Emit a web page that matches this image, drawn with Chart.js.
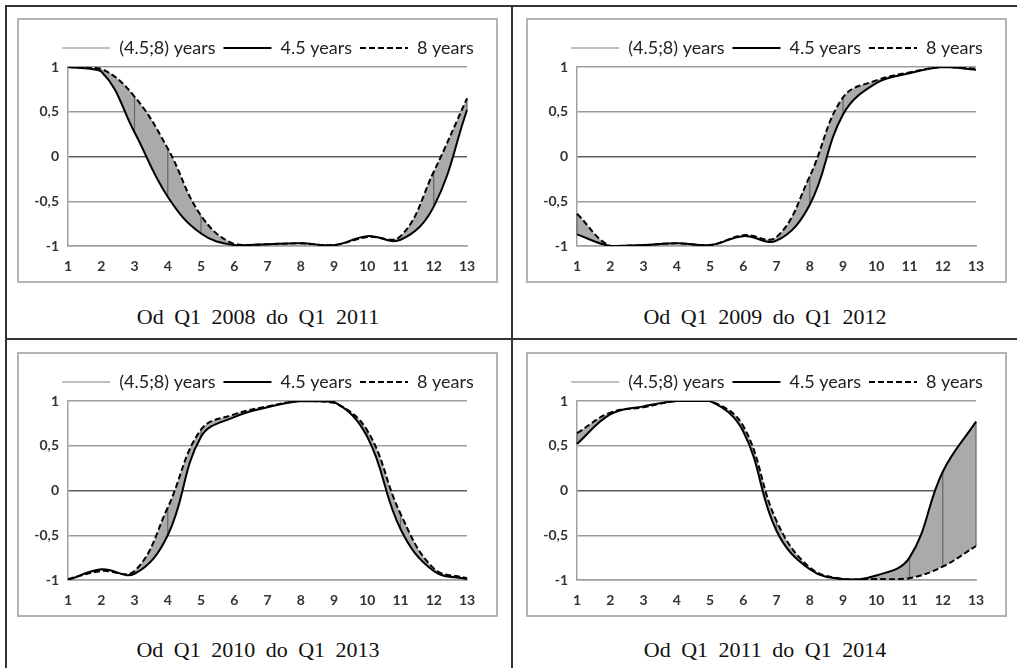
<!DOCTYPE html>
<html>
<head>
<meta charset="utf-8">
<script src="https://cdn.jsdelivr.net/npm/chart.js@4/dist/chart.umd.min.js"></script>
<style>
    body { margin: 0; background: #fff; width: 1017px; height: 668px; overflow: hidden; position: relative; }
    .rule { position: absolute; background: #333; }
    .frame { position: absolute; width: 477px; height: 261px; border: 2px solid #b3b3b3; background: #fff; }
    .caption { position: absolute; width: 500px; text-align: center; font-family: "Liberation Serif", "Times New Roman", serif; font-size: 22px; word-spacing: 5px; color: #111; }
</style>
</head>
<body>
<div class="rule" style="left:5px;top:5px;width:2px;height:663px"></div>
<div class="rule" style="left:5px;top:5px;width:1012px;height:2px"></div>
<div class="rule" style="left:511px;top:5px;width:2px;height:663px"></div>
<div class="rule" style="left:5px;top:338px;width:1012px;height:2px"></div>

<div class="frame" style="left:17px;top:18px"><canvas id="chart1" width="477" height="261"></canvas></div>
<div class="frame" style="left:526px;top:18px"><canvas id="chart2" width="477" height="261"></canvas></div>
<div class="frame" style="left:17px;top:352px"><canvas id="chart3" width="477" height="261"></canvas></div>
<div class="frame" style="left:526px;top:352px"><canvas id="chart4" width="477" height="261"></canvas></div>

<div class="caption" id="cap1" style="left:8px;top:304px"></div>
<div class="caption" id="cap2" style="left:515px;top:304px"></div>
<div class="caption" id="cap3" style="left:8px;top:637px"></div>
<div class="caption" id="cap4" style="left:515px;top:637px"></div>

<script>
const quarters = ['1', '2', '3', '4', '5', '6', '7', '8', '9', '10', '11', '12', '13'];
const yTickLabels = ['-1', '-0,5', '0', '0,5', '1'];
const seriesNames = ['(4.5;8) years', '4.5 years', '8 years'];
const captions = ['Od Q1 2008 do Q1 2011', 'Od Q1 2009 do Q1 2012', 'Od Q1 2010 do Q1 2013', 'Od Q1 2011 do Q1 2014'];

// 4.5 years / 8 years, one pair per panel
const p1Short = [1.0, 0.95, 0.27, -0.45, -0.86, -0.99, -0.98, -0.97, -0.99, -0.89, -0.93, -0.56, 0.52];
const p1Long  = [1.0, 0.98, 0.67, 0.09, -0.66, -0.98, -0.98, -0.97, -0.99, -0.90, -0.89, -0.17, 0.65];
const p2Short = [-0.87, -1.0, -0.99, -0.97, -0.99, -0.89, -0.94, -0.54, 0.47, 0.82, 0.93, 1.0, 0.97];
const p2Long  = [-0.64, -1.0, -0.99, -0.97, -0.99, -0.88, -0.90, -0.22, 0.66, 0.85, 0.94, 1.0, 0.98];
const p3Short = [-1.0, -0.88, -0.93, -0.50, 0.60, 0.82, 0.93, 1.0, 0.99, 0.60, -0.43, -0.90, -0.99];
const p3Long  = [-0.99, -0.90, -0.90, -0.19, 0.68, 0.85, 0.94, 1.0, 0.98, 0.67, -0.26, -0.87, -0.98];
const p4Short = [0.52, 0.85, 0.94, 1.0, 1.0, 0.66, -0.45, -0.88, -0.99, -0.95, -0.75, 0.21, 0.77];
const p4Long  = [0.64, 0.87, 0.93, 1.0, 1.0, 0.72, -0.34, -0.86, -0.99, -0.99, -0.98, -0.85, -0.62];

// grey high-low style line at every quarter between the two curves
const dropLines = {
    id: 'dropLines',
    afterLayout(chart) {
        // Excel centres the legend over the plot, not over the whole box
        chart.legend.left += 25;
        chart.legend.right += 25;
    },
    beforeDatasetsDraw(chart) {
        const x = chart.scales.x, y = chart.scales.y;
        const a = chart.data.datasets[1].data, b = chart.data.datasets[2].data;
        const ctx = chart.ctx;
        ctx.save();
        ctx.strokeStyle = '#666';
        ctx.lineWidth = 1.2;
        for (let i = 0; i < a.length; i++) {
            if (Math.abs(a[i] - b[i]) < 0.05) continue;
            ctx.beginPath();
            ctx.moveTo(x.getPixelForValue(i), y.getPixelForValue(a[i]));
            ctx.lineTo(x.getPixelForValue(i), y.getPixelForValue(b[i]));
            ctx.stroke();
        }
        ctx.restore();
    }
};

function makeChart(id, shortVals, longVals) {
    const ctx = document.getElementById(id).getContext('2d');
    return new Chart(ctx, {
        type: 'line',
        data: {
            labels: quarters,
            datasets: [{
                label: seriesNames[0],
                data: longVals,
                borderWidth: 0,
                borderColor: 'rgba(0,0,0,0)',
                backgroundColor: '#aaaaaa',
                fill: '+1',
                tension: 0.4,
                pointRadius: 0
            }, {
                label: seriesNames[1],
                data: shortVals,
                borderColor: '#000',
                borderWidth: 2,
                fill: false,
                tension: 0.4,
                pointRadius: 0
            }, {
                label: seriesNames[2],
                data: longVals,
                borderColor: '#000',
                borderWidth: 2,
                borderDash: [6, 3],
                fill: false,
                tension: 0.4,
                pointRadius: 0
            }]
        },
        options: {
            responsive: false,
            animation: false,
            layout: { padding: { left: 0, right: 29, top: 11, bottom: 0 } },
            plugins: {
                filler: { drawTime: 'beforeDatasetsDraw' },
                tooltip: { enabled: false },
                legend: {
                    position: 'top',
                    labels: {
                        font: { family: 'Lato', size: 18 },
                        color: '#222',
                        usePointStyle: true,
                        pointStyle: 'line',
                        pointStyleWidth: 48,
                        padding: 8,
                        generateLabels: function(chart) {
                            const items = Chart.defaults.plugins.legend.labels.generateLabels(chart);
                            items[0].strokeStyle = '#a8a8a8';
                            items[0].lineWidth = 1.5;
                            items[1].lineWidth = 2;
                            items[2].lineWidth = 2;
                            items[2].lineDash = [6, 3];
                            return items;
                        }
                    }
                }
            },
            scales: {
                x: {
                    offset: false,
                    grid: { display: false, drawTicks: false },
                    border: { display: true, color: '#a0a0a0', width: 1.5 },
                    ticks: { font: { family: 'Lato', size: 14, weight: 'bold' }, color: '#333', padding: 12, maxRotation: 0, autoSkip: false },
                    afterFit: function(scale) { scale.height = 35; }
                },
                y: {
                    min: -1,
                    max: 1,
                    grid: {
                        drawTicks: false,
                        lineWidth: 1.5,
                        color: c => c.tick && c.tick.value === 0 ? '#5a5a5a' : '#9c9c9c'
                    },
                    border: { display: true, color: '#a0a0a0', width: 1.5 },
                    ticks: {
                        stepSize: 0.5,
                        padding: 9,
                        font: { family: 'Lato', size: 14, weight: 'bold' },
                        color: '#333',
                        callback: (v, i) => yTickLabels[i]
                    },
                    afterFit: function(scale) { scale.width = 49; }
                }
            }
        },
        plugins: [dropLines]
    });
}

makeChart('chart1', p1Short, p1Long);
makeChart('chart2', p2Short, p2Long);
makeChart('chart3', p3Short, p3Long);
makeChart('chart4', p4Short, p4Long);

captions.forEach((t, i) => { document.getElementById('cap' + (i + 1)).textContent = t; });
</script>
</body>
</html>
